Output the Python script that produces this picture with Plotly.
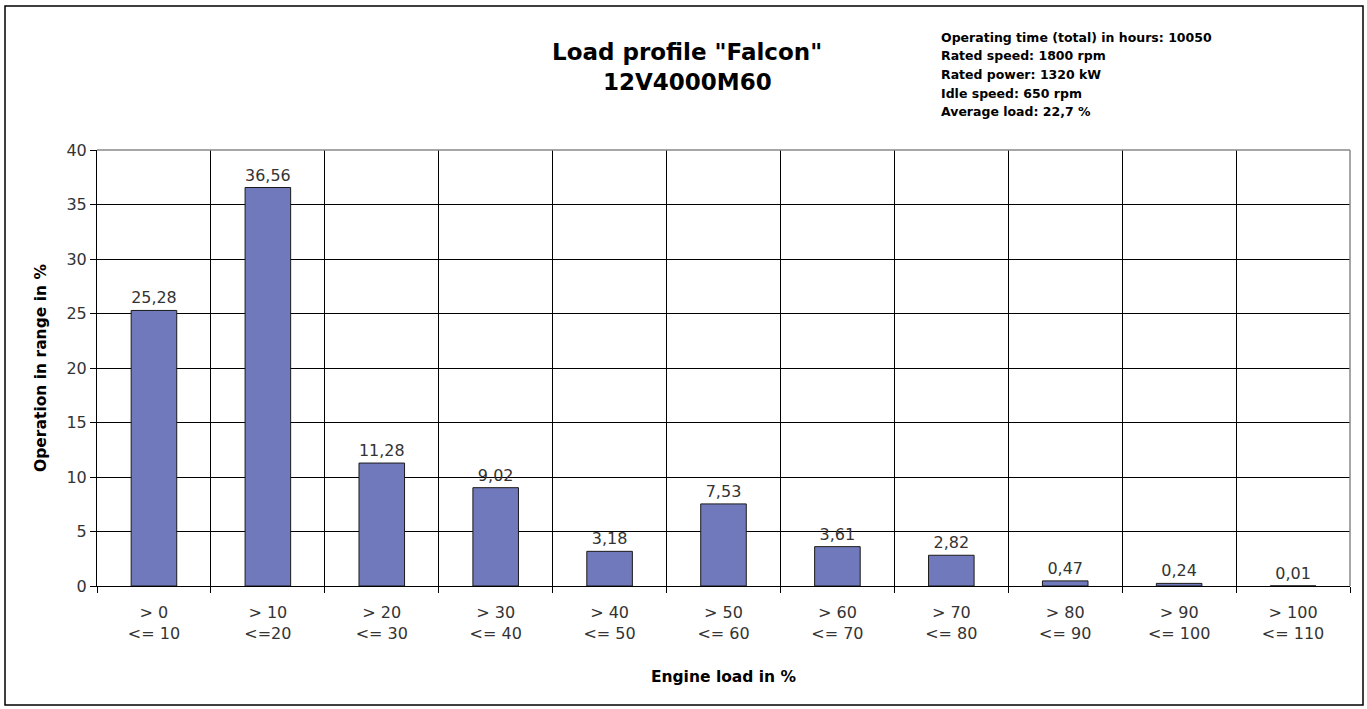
import plotly.graph_objects as go

categories = ["> 0<br><= 10", "> 10<br><=20", "> 20<br><= 30", "> 30<br><= 40", "> 40<br><= 50",
              "> 50<br><= 60", "> 60<br><= 70", "> 70<br><= 80", "> 80<br><= 90", "> 90<br><= 100",
              "> 100<br><= 110"]
values = [25.28, 36.56, 11.28, 9.02, 3.18, 7.53, 3.61, 2.82, 0.47, 0.24, 0.01]
labels = [f"{v:.2f}".replace(".", ",") for v in values]
title_lines = ["Load profile \"Falcon\"", "12V4000M60"]
info_lines = ["Operating time (total) in hours: 10050", "Rated speed: 1800 rpm",
              "Rated power: 1320 kW", "Idle speed: 650 rpm", "Average load: 22,7 %"]

W, H = 1367, 709
L, R, T, B = 97, 1350, 150, 586

def px(x):
    return (x - L) / (R - L)

def py(y):
    return (B - y) / (B - T)

font = "DejaVu Sans, Verdana, sans-serif"

fig = go.Figure(go.Bar(
    x=categories, y=values, text=labels, textposition="outside",
    textfont=dict(family=font, size=16, color="#333333"),
    marker=dict(color="#7079BC", line=dict(color="#1a1a1a", width=1)),
    cliponaxis=False,
))

annotations = []
for i, t in enumerate(title_lines):
    annotations.append(dict(text=f"<b>{t}</b>", xref="paper", yref="paper",
                            x=px(687), y=py(52 + 30 * i), xanchor="center", yanchor="middle",
                            showarrow=False, font=dict(family=font, size=23, color="black")))
for i, t in enumerate(info_lines):
    annotations.append(dict(text=f"<b>{t}</b>", xref="paper", yref="paper",
                            x=px(939), y=py(37 + 18.7 * i), xanchor="left", yanchor="middle",
                            showarrow=False, font=dict(family=font, size=12.5, color="black")))

fig.update_layout(
    width=W, height=H,
    margin=dict(l=L, r=W - R, t=T, b=H - B, pad=0),
    paper_bgcolor="white", plot_bgcolor="white",
    bargap=0.6, showlegend=False,
    font=dict(family=font, size=16, color="#333333"),
    xaxis=dict(
        type="category", tickson="boundaries", showgrid=True, gridcolor="black", gridwidth=1,
        ticks="outside", ticklen=6, tickcolor="black", showline=True, linecolor="black",
        mirror=False, tickfont=dict(family=font, size=16, color="#333333"), ticklabelstandoff=12,
        title=dict(text="<b>Engine load in %</b>", font=dict(family=font, size=15.5, color="black"), standoff=29),
    ),
    yaxis=dict(
        range=[0, 40], dtick=5, showgrid=True, gridcolor="black", gridwidth=1,
        ticks="outside", ticklen=6, tickcolor="black", showline=True, linecolor="black",
        mirror=False, tickfont=dict(family=font, size=16, color="#333333"), zeroline=False,
        title=dict(text="<b>Operation in range in %</b>", font=dict(family=font, size=15.5, color="black"), standoff=16),
    ),
    shapes=[
        dict(type="rect", xref="paper", yref="paper",
             x0=px(5), x1=px(1363), y0=py(705), y1=py(6),
             line=dict(color="black", width=1.5), fillcolor="rgba(0,0,0,0)", layer="below"),
        dict(type="line", xref="paper", yref="paper", x0=0, x1=1, y0=1, y1=1,
             line=dict(color="#888888", width=1.5)),
        dict(type="line", xref="paper", yref="paper", x0=1, x1=1, y0=0, y1=1,
             line=dict(color="#888888", width=1.5)),
    ],
    annotations=annotations,
)

fig.write_html("out.html", config={"displayModeBar": False},
               post_script="document.body.style.margin='0';document.body.style.overflow='hidden';")
